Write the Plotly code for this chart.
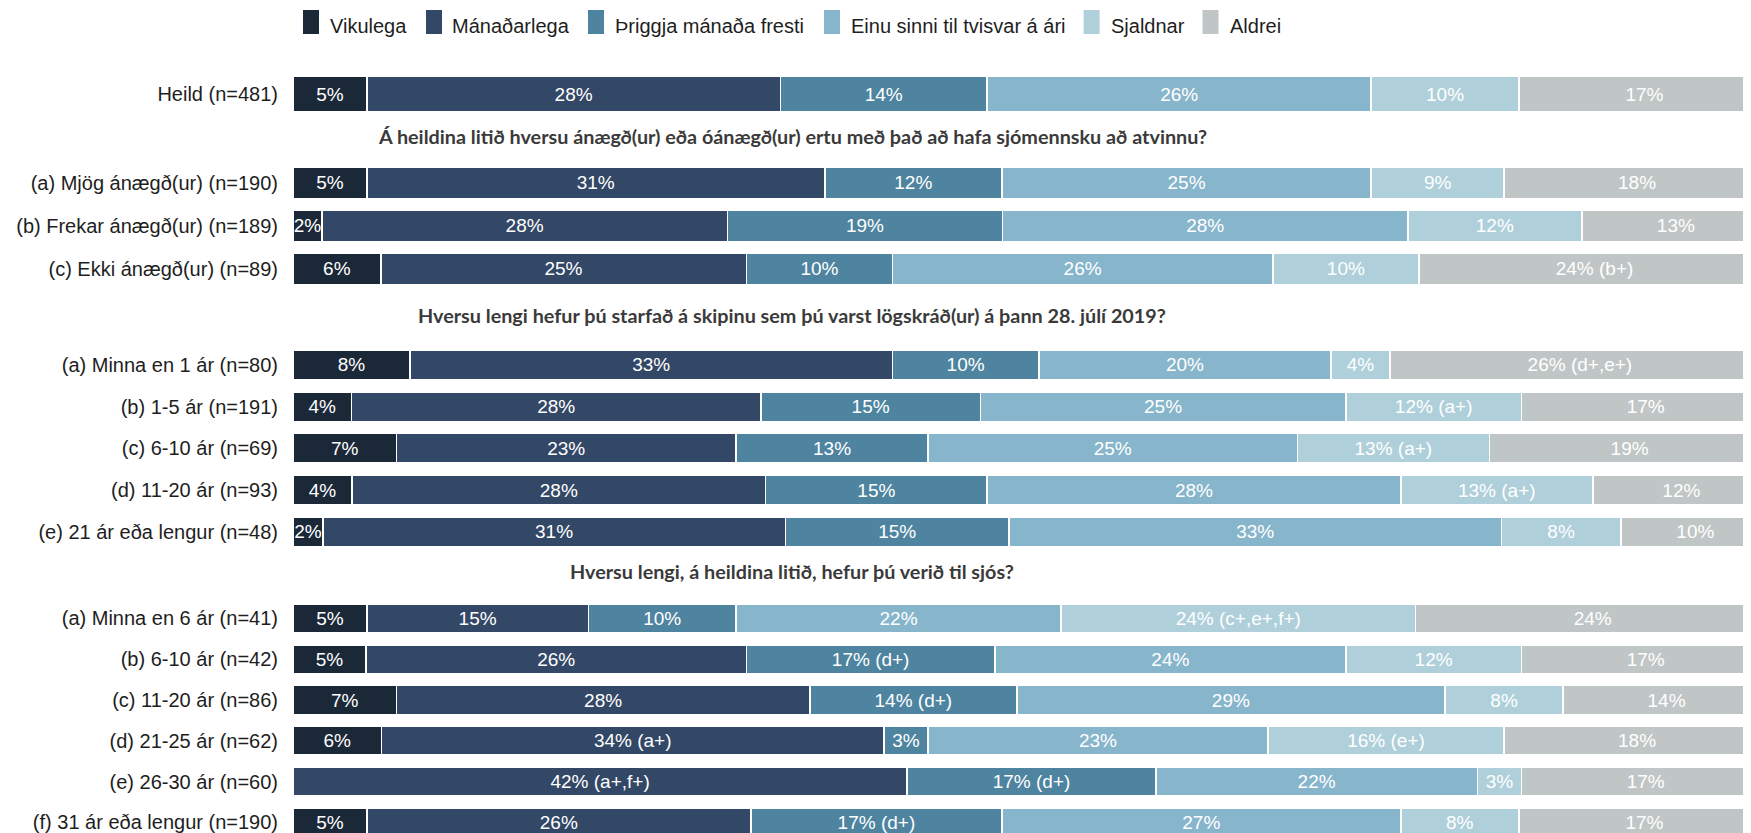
import plotly.graph_objects as go

# ---------------- data ----------------
series_names = ["Vikulega", "Mánaðarlega", "Þriggja mánaða fresti",
                "Einu sinni til tvisvar á ári", "Sjaldnar", "Aldrei"]

section_titles = [
    "Á heildina litið hversu ánægð(ur) eða óánægð(ur) ertu með það að hafa sjómennsku að atvinnu?",
    "Hversu lengi hefur þú starfað á skipinu sem þú varst lögskráð(ur) á þann 28. júlí 2019?",
    "Hversu lengi, á heildina litið, hefur þú verið til sjós?",
]

panel_labels = [
    ["Heild (n=481)"],
    ["(a) Mjög ánægð(ur) (n=190)", "(b) Frekar ánægð(ur) (n=189)", "(c) Ekki ánægð(ur) (n=89)"],
    ["(a) Minna en 1 ár (n=80)", "(b) 1-5 ár (n=191)", "(c) 6-10 ár (n=69)",
     "(d) 11-20 ár (n=93)", "(e) 21 ár eða lengur (n=48)"],
    ["(a) Minna en 6 ár (n=41)", "(b) 6-10 ár (n=42)", "(c) 11-20 ár (n=86)",
     "(d) 21-25 ár (n=62)", "(e) 26-30 ár (n=60)", "(f) 31 ár eða lengur (n=190)"],
]

vikulega    = [5, 5, 2, 6, 8, 4, 7, 4, 2, 5, 5, 7, 6, 0, 5]
manadarlega = [28, 31, 28, 25, 33, 28, 23, 28, 31, 15, 26, 28, 34, 42, 26]
thriggja    = [14, 12, 19, 10, 10, 15, 13, 15, 15, 10, 17, 14, 3, 17, 17]
einu_sinni  = [26, 25, 28, 26, 20, 25, 25, 28, 33, 22, 24, 29, 23, 22, 27]
sjaldnar    = [10, 9, 12, 10, 4, 12, 13, 13, 8, 24, 12, 8, 16, 3, 8]
aldrei      = [17, 18, 13, 24, 26, 17, 19, 12, 10, 24, 17, 14, 18, 17, 17]

notes_vikulega    = [""] * 15
notes_manadarlega = ["", "", "", "", "", "", "", "", "", "", "", "", "(a+)", "(a+,f+)", ""]
notes_thriggja    = ["", "", "", "", "", "", "", "", "", "", "(d+)", "(d+)", "", "(d+)", "(d+)"]
notes_einu_sinni  = [""] * 15
notes_sjaldnar    = ["", "", "", "", "", "(a+)", "(a+)", "(a+)", "", "(c+,e+,f+)", "", "", "(e+)", "", ""]
notes_aldrei      = ["", "", "", "(b+)", "(d+,e+)", "", "", "", "", "", "", "", "", "", ""]

series_values = [vikulega, manadarlega, thriggja, einu_sinni, sjaldnar, aldrei]
series_notes = [notes_vikulega, notes_manadarlega, notes_thriggja,
                notes_einu_sinni, notes_sjaldnar, notes_aldrei]

# ---------------- style / layout ----------------
colors = ["#1b2838", "#334766", "#4e849f", "#87b5cb", "#afd0da", "#bfc6c5"]

PAGE_OFF = 8                      # default page body margin
W, H = 1751 - PAGE_OFF, 833 - PAGE_OFF
left_px = 293 - PAGE_OFF
px_per_pct = 14.77
x_max = (W - left_px) / px_per_pct

def py(v):                        # window pixel -> figure pixel (vertical)
    return v - PAGE_OFF

def px(v):                        # window pixel -> figure pixel (horizontal)
    return v - PAGE_OFF

panel_first_center = [94.3, 182.7, 365.0, 618.4]
panel_spacing = [50.0, 43.0, 41.7, 40.8]
panel_bar_frac = [0.714, 0.737, 0.712, 0.71]

title_center_px = 792
title_y_px = [136.0, 315.0, 571.0]

FONT = "Liberation Sans, Arial, sans-serif"
TITLE_FONT = "Lato, Open Sans, sans-serif"

fig = go.Figure()
layout_axes = {}

start = 0
for p, labels in enumerate(panel_labels):
    n = len(labels)
    sl = slice(start, start + n)
    start += n
    ax_suffix = "" if p == 0 else str(p + 1)
    for s, name in enumerate(series_names):
        vals = series_values[s][sl]
        notes = series_notes[s][sl]
        txt = [("" if v == 0 else f"{v}%" + (f" {nt}" if nt else "")) for v, nt in zip(vals, notes)]
        fig.add_trace(go.Bar(
            x=vals, y=list(range(n)), orientation="h", name=name,
            marker=dict(color=colors[s], line=dict(color="white", width=1.6)),
            width=panel_bar_frac[p],
            text=txt, textposition="inside", insidetextanchor="middle",
            textangle=0, constraintext="none",
            textfont=dict(family=FONT, size=19, color="white"),
            xaxis="x" + ax_suffix, yaxis="y" + ax_suffix,
            showlegend=False, hoverinfo="skip",
        ))
    sp = panel_spacing[p]
    top_px = py(panel_first_center[p]) - sp / 2
    bot_px = min(top_px + n * sp, H)
    dom = [max(0.0, 1 - bot_px / H), 1 - top_px / H]
    rng = [(bot_px - top_px) / sp - 0.5, -0.5]
    layout_axes["yaxis" + ax_suffix] = dict(
        domain=dom, range=rng, tickmode="array", tickvals=list(range(n)), ticktext=labels,
        showgrid=False, zeroline=False, showline=False, ticks="",
        ticklabelstandoff=14, ticklabeloverflow="allow",
        tickfont=dict(family=FONT, size=20, color="#1e1e1e"),
        anchor="x" + ax_suffix, fixedrange=True,
    )
    layout_axes["xaxis" + ax_suffix] = dict(
        range=[0, x_max], visible=False, anchor="y" + ax_suffix, fixedrange=True,
    )

# section titles
annotations = []
plot_w = W - left_px
for t, ypx in zip(section_titles, title_y_px):
    annotations.append(dict(
        text=f"<b>{t}</b>", xref="paper", yref="paper",
        x=(px(title_center_px) - left_px) / plot_w, y=1 - py(ypx) / H,
        xanchor="center", yanchor="middle", showarrow=False,
        font=dict(family=TITLE_FONT, size=19.8, color="#3a3a3a"),
    ))

# custom legend
legend_swatch_px = [303, 426, 588, 824, 1083.6, 1202.5]
legend_text_px = [329, 451, 614, 849.6, 1109.5, 1229]
shapes = []
for name, c, sx, tx in zip(series_names, colors, legend_swatch_px, legend_text_px):
    shapes.append(dict(
        type="rect", xref="paper", yref="paper",
        x0=(px(sx) - left_px) / plot_w, x1=(px(sx) + 16 - left_px) / plot_w,
        y0=1 - py(34) / H, y1=1 - py(10) / H,
        fillcolor=c, line=dict(width=0),
    ))
    annotations.append(dict(
        text=name, xref="paper", yref="paper",
        x=(px(tx) - 1 - left_px) / plot_w, y=1 - py(25.5) / H,
        xanchor="left", yanchor="middle", showarrow=False,
        font=dict(family=FONT, size=20, color="#1e1e1e"),
    ))

fig.update_layout(
    width=W, height=H,
    margin=dict(l=left_px, r=0, t=0, b=0, autoexpand=False),
    barmode="stack", barnorm="percent",
    paper_bgcolor="white", plot_bgcolor="white",
    annotations=annotations, shapes=shapes,
    showlegend=False,
    **layout_axes,
)

fig.write_html("out.html", config={"displayModeBar": False})
